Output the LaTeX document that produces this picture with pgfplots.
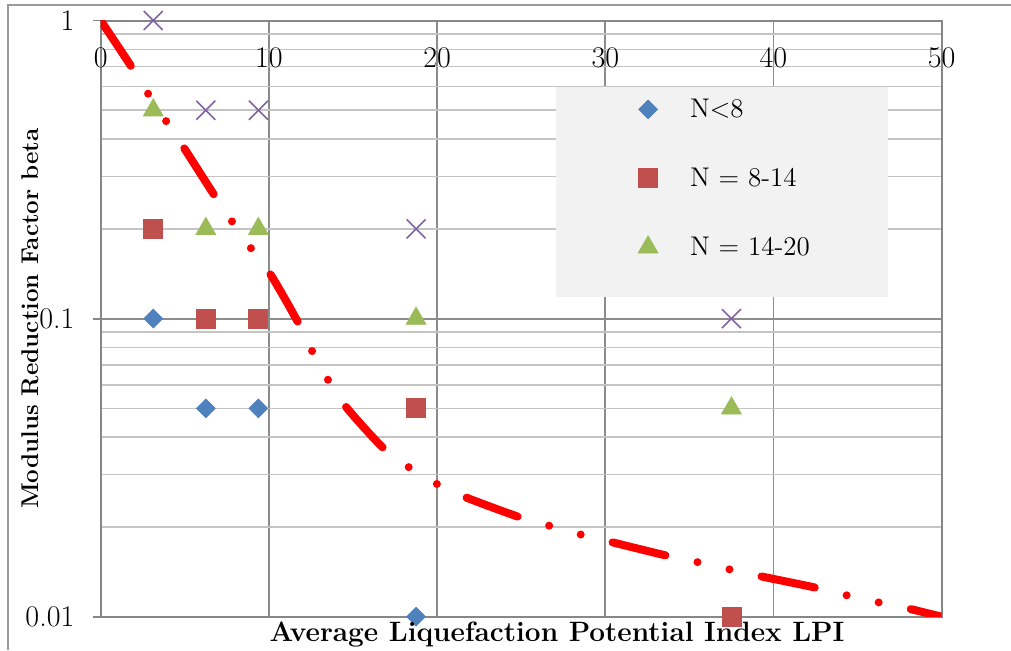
\documentclass[border=0pt]{standalone}
\usepackage{fontspec}
\usepackage{pgfplots}
\pgfplotsset{compat=1.18}
\definecolor{blueD}{HTML}{4F81BD}
\definecolor{redS}{HTML}{C0504D}
\definecolor{greenT}{HTML}{9BBB59}
\definecolor{purpleX}{HTML}{8064A2}
\definecolor{legbg}{HTML}{F2F2F2}
\definecolor{axgray}{HTML}{878787}
\definecolor{majgray}{HTML}{8C8C8C}
\definecolor{mingray}{HTML}{C4C4C4}
\definecolor{framegray}{HTML}{9A9A9A}
\begin{document}
\begin{tikzpicture}
\useasboundingbox (-50.35pt,-16.65pt) rectangle (455.15pt,308.35pt);
\draw[framegray, line width=0.75pt] (-46.35pt,-16.65pt) -- (-46.35pt,305.85pt) -- (455.15pt,305.85pt);
\begin{axis}[
  at={(0pt,0pt)}, anchor=south west,
  width=420.5pt, height=298.1pt, scale only axis,
  xmin=0, xmax=50, ymin=0.01, ymax=1, ymode=log,
  xtick={0,10,20,30,40,50},
  ytick={0.01,0.1,1}, yticklabels={0.01,0.1,1},
  minor ytick={0.02,0.03,0.04,0.05,0.06,0.07,0.08,0.09,0.2,0.3,0.4,0.5,0.6,0.7,0.8,0.9},
  /pgf/number format/assume math mode=true,
  xmajorgrids=true, ymajorgrids=true, yminorgrids=true,
  major grid style={majgray, line width=0.9pt},
  minor grid style={mingray, line width=0.8pt},
  axis line style={axgray, line width=1pt},
  x tick style={draw=none},
  y tick style={axgray, line width=0.9pt},
  tick align=outside,
  ytick pos=left,
  major tick length=4pt, minor tick length=0pt,
  xticklabel pos=upper,
  tick label style={font=\fontsize{15}{17}\selectfont},
  xticklabel style={anchor=center, yshift=-22.5pt, inner sep=0pt},
  yticklabel style={anchor=east, inner sep=0pt, xshift=-9pt},
  xlabel={Average Liquefaction Potential Index LPI},
  ylabel={Modulus Reduction Factor beta},
  xlabel style={font=\fontsize{14}{16}\selectfont\bfseries, at={(axis description cs:0.5426,-0.0419)}, anchor=base},
  ylabel style={font=\fontsize{12.1}{15}\selectfont\bfseries, at={(axis description cs:-0.0734,0.5)}, anchor=base, rotate=0},
  clip mode=individual,
  legend style={draw=none, fill=none, at={(axis description cs:0.6271,0.8846)}, anchor=north west,
    inner sep=0pt, outer sep=0pt, row sep=14.5pt, column sep=11pt,
    font=\fontsize{13.5}{15}\selectfont, nodes={inner sep=0pt, anchor=west}},
  legend image code/.code={\path[draw=none, fill=none] (0pt,-10pt) rectangle (20pt,10pt); \draw[#1] plot coordinates {(10pt,0pt)};},
]
\fill[legbg] (rel axis cs:0.5414,0.5362) rectangle (rel axis cs:0.9362,0.8885);
\addplot[only marks, mark=square*, mark size=3.3pt, color=blueD, mark options={rotate=45, fill=blueD, draw=blueD}]
  coordinates {(3.125,0.1) (6.25,0.05) (9.375,0.05) (18.75,0.01)};
\addlegendentry{N<8}
\addplot[only marks, mark=square*, mark size=4.75pt, color=redS, mark options={fill=redS, draw=redS}]
  coordinates {(3.125,0.2) (6.25,0.1) (9.375,0.1) (18.75,0.05) (37.5,0.01)};
\addlegendentry{N = 8-14}
\addplot[only marks, mark=triangle*, mark size=5.7pt, color=greenT, mark options={fill=greenT, draw=greenT}]
  coordinates {(3.125,0.5) (6.25,0.2) (9.375,0.2) (18.75,0.1) (37.5,0.05)};
\addlegendentry{N = 14-20}
\addplot[only marks, mark=x, mark size=6.7pt, color=purpleX, mark options={line width=0.8pt}, forget plot]
  coordinates {(3.125,1) (6.25,0.5) (9.375,0.5) (18.75,0.2) (37.5,0.1)};
\addplot[red, line width=4pt, line cap=round, smooth, no marks, forget plot,
  dash pattern=on 27.2pt off 16.4pt on 0pt off 16.4pt on 0pt off 16.4pt]
  coordinates {(0,1) (1.80,0.7036) (2.83,0.5666) (3.90,0.4587) (4.97,0.3724) (6.75,0.2597)
  (7.82,0.2113) (8.94,0.1720) (10.12,0.1400) (11.75,0.0968) (12.58,0.0776) (13.51,0.0624)
  (14.58,0.0506) (16.80,0.0368) (18.33,0.0317) (19.98,0.0279) (21.66,0.0252) (24.87,0.0216)
  (26.67,0.0202) (28.54,0.01887) (30.32,0.01782) (33.61,0.01605) (35.49,0.01524) (37.35,0.01443)
  (39.20,0.01368) (42.47,0.01253) (44.35,0.0118) (46.21,0.01118) (48.01,0.01065) (50,0.01)};
\end{axis}
\end{tikzpicture}
\end{document}
